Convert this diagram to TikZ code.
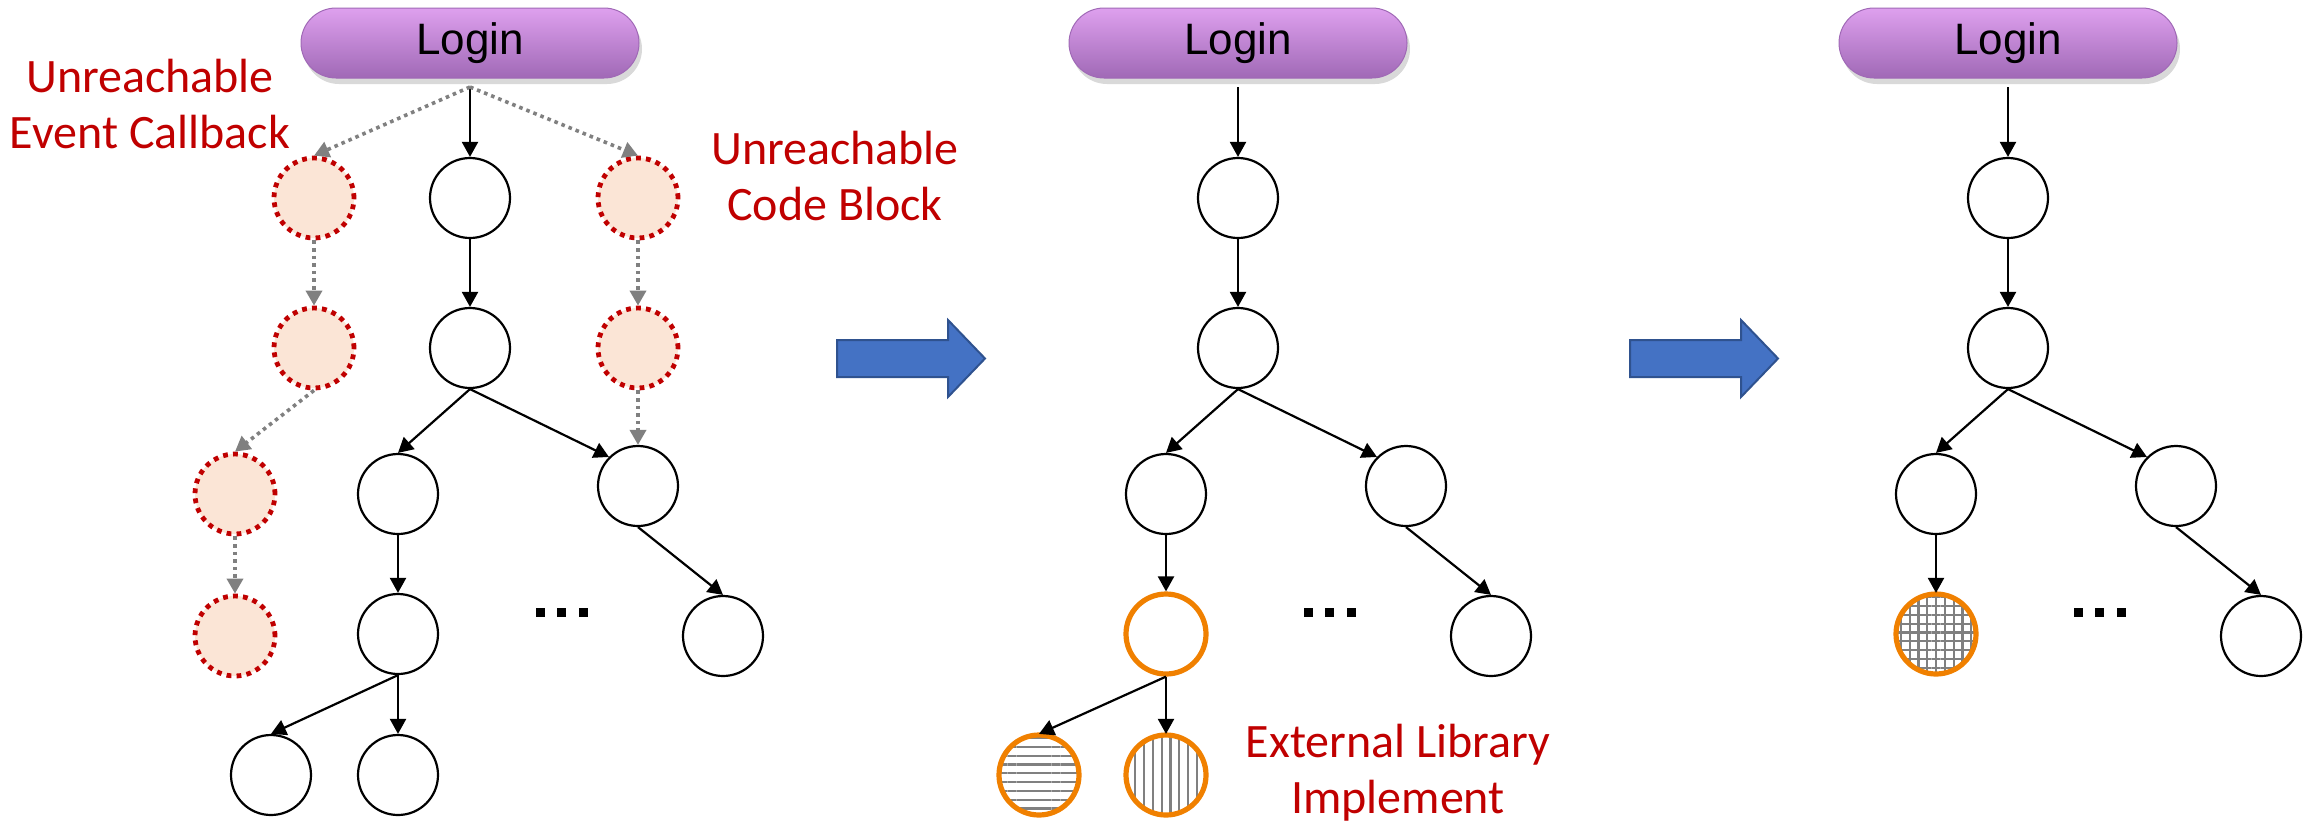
\documentclass[tikz,border=0pt]{standalone}
\usepackage{fontspec}
\usetikzlibrary{arrows.meta,patterns.meta,shadows}

\newfontfamily\notefont{Carlito}
\newfontfamily\loginfont{Liberation Sans}

\definecolor{loginpurple}{RGB}{189,130,214}
\definecolor{logintop}{RGB}{222,160,238}
\definecolor{loginbottom}{RGB}{160,105,182}
\definecolor{deadred}{RGB}{192,0,0}
\definecolor{deadfill}{RGB}{251,229,214}
\definecolor{liborange}{RGB}{240,128,0}
\definecolor{flowblue}{RGB}{68,114,196}
\definecolor{flowedge}{RGB}{47,82,143}

\tikzset{
  login/.style={rounded corners=17.5pt, minimum width=169pt, minimum height=35pt,
    top color=logintop, middle color=loginpurple, bottom color=loginbottom,
    draw=loginbottom, line width=0.5pt, outer ysep=4.5pt,
    drop shadow={shadow xshift=1.5pt, shadow yshift=-3pt, opacity=0.3},
    font=\loginfont\fontsize{22}{26}\selectfont},
  state/.style={circle, draw, line width=1.1pt, minimum size=40pt, inner sep=0pt},
  dead/.style={state, draw=deadred, fill=deadfill, line width=2.4pt, dash pattern=on 2.4pt off 2.6pt},
  lib/.style={state, draw=liborange, line width=2.6pt},
  call/.style={-{Triangle[length=7.5pt,width=8pt]}, line width=1.1pt},
  deadcall/.style={call, gray, line width=1.8pt, dash pattern=on 1.8pt off 2pt},
  note/.style={text=deadred, align=center, font=\notefont\fontsize{24}{28}\selectfont},
  flow/.style={fill=flowblue, draw=flowedge, line width=1pt, line join=miter}
}

\begin{document}
\begin{tikzpicture}[x=0.5pt,y=-0.5pt]
  \useasboundingbox (0,0) rectangle (2304,826);

  % spine shared by the three call graphs
  \foreach \cx/\p in {470/a,1238/b,2008/c}
  {
  \node[login] (login\p) at (\cx,43) {Login};
  \node[state] (\p1) at (\cx,198) {};
  \node[state] (\p2) at (\cx,348) {};
  \node[state] (\p3) at ({\cx-72},494) {};
  \node[state] (\p4) at ({\cx+168},486) {};
  \node[state] (\p6) at ({\cx+253},636) {};
  \draw[call] (login\p) -- (\p1);
  \draw[call] (\p1) -- (\p2);
  \draw[call] (\p2.south) -- (\p3.north);
  \draw[call] (\p2.south) -- (\p4.north west);
  \draw[call] (\p4.south) -- (\p6.north);
  \foreach \dx in {70,91.5,113}
    \fill ({\cx+\dx-4.5},607.5) rectangle +(9,9);
  }

  % first graph: unreachable parts
  \node[state] (a5) at (398,634) {};
  \node[state] (a7) at (271,775) {};
  \node[state] (a8) at (398,775) {};
  \draw[call] (a3) -- (a5);
  \draw[call] (a5.south) -- (a7.north);
  \draw[call] (a5) -- (a8);

  \node[dead] (r1) at (314,198) {};
  \node[dead] (r2) at (314,348) {};
  \node[dead] (r3) at (235,494) {};
  \node[dead] (r4) at (235,636) {};
  \node[dead] (r5) at (638,198) {};
  \node[dead] (r6) at (638,348) {};
  \draw[deadcall] (logina.south) -- (r1.north);
  \draw[deadcall] (logina.south) -- (r5.north);
  \draw[deadcall] (r1) -- (r2);
  \draw[deadcall] (r2.south) -- (r3.north);
  \draw[deadcall] (r3) -- (r4);
  \draw[deadcall] (r5) -- (r6);
  \draw[deadcall] (r6) -- (a4);

  \node[note] (evtnote) at (150,104) {Unreachable\\Event Callback};
  \node[note] (blknote) at (835,176) {Unreachable\\Code Block};

  % second graph: library calls
  \node[lib, pattern={Lines[angle=0,distance=4.4pt,line width=1.1pt]}, pattern color=gray] (b7) at (1039,775) {};
  \node[lib, pattern={Lines[angle=90,distance=4.4pt,line width=1.1pt]}, pattern color=gray] (b8) at (1166,775) {};
  \node[lib] (b5) at (1166,634) {};
  \draw[call] (b3) -- (b5);
  \draw[call] (b5.south) -- (b7.north);
  \draw[call] (b5) -- (b8);
  \node[note] (libnote) at (1398,773) {External Library\\Implement};

  % third graph: library folded into one node
  \node[lib, pattern={Hatch[angle=0,distance=4.4pt,line width=1.1pt]}, pattern color=gray] (c5) at (1936,634) {};
  \draw[call] (c3) -- (c5);

  % block arrows between the graphs
  \foreach \ax in {837,1630}
    \draw[flow] (\ax,340) -- ++(111,0) -- ++(0,-20) -- ++(37,38.5) -- ++(-37,38.5) -- ++(0,-20) -- ++(-111,0) -- cycle;
\end{tikzpicture}
\end{document}
